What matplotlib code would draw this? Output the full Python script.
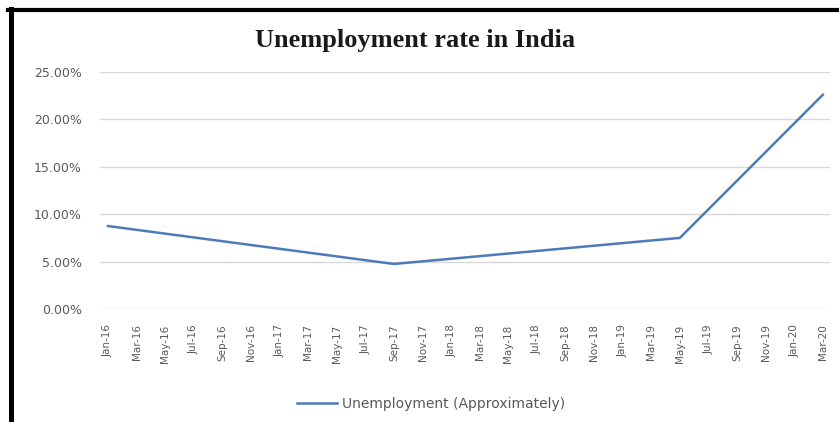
import matplotlib
matplotlib.use("Agg")
import matplotlib.pyplot as plt
from matplotlib.lines import Line2D
from matplotlib.ticker import FuncFormatter

# monthly index from Jan-16 (0) to Mar-20 (50)
months = [0, 20, 40, 50]
rates = [8.75, 4.75, 7.5, 22.6]

tick_months = list(range(0, 51, 2))
tick_labels = ["Jan-16", "Mar-16", "May-16", "Jul-16", "Sep-16", "Nov-16",
               "Jan-17", "Mar-17", "May-17", "Jul-17", "Sep-17", "Nov-17",
               "Jan-18", "Mar-18", "May-18", "Jul-18", "Sep-18", "Nov-18",
               "Jan-19", "Mar-19", "May-19", "Jul-19", "Sep-19", "Nov-19",
               "Jan-20", "Mar-20"]
y_ticks = [0, 5, 10, 15, 20, 25]

W, H = 839, 422
fig = plt.figure(figsize=(W / 100, H / 100), dpi=100)
ax = fig.add_axes([100 / W, 1 - 309 / H, 730 / W, 237 / H])

ax.plot(months, rates, color="#4E7AB8", lw=1.8, label="Unemployment (Approximately)")

ax.set_xlim(-0.56, 50.5)
ax.set_ylim(0, 25)
ax.set_yticks(y_ticks)
ax.yaxis.set_major_formatter(FuncFormatter(lambda v, p: f"{v:.2f}%"))
ax.set_xticks(tick_months)
ax.set_xticklabels(tick_labels, rotation=90)
ax.tick_params(axis="both", length=0, colors="#595959")
ax.tick_params(axis="y", pad=13, labelsize=9)
ax.tick_params(axis="x", pad=11, labelsize=7.5)
ax.grid(axis="y", color="#D9D9D9", lw=1)
ax.set_axisbelow(True)
for s in ax.spines.values():
    s.set_visible(False)

fig.text(415 / W, 1 - 40 / H, "Unemployment rate in India", ha="center", va="center",
         fontsize=19, fontweight="bold", family="Liberation Serif", color="#1a1a1a")

ax.legend(loc="center", bbox_to_anchor=(431 / W, 1 - 404 / H),
          bbox_transform=fig.transFigure, frameon=False, fontsize=10,
          handlelength=2.9, handletextpad=0.3, labelcolor="#595959")

# black frame on top and left edges
fig.add_artist(Line2D([8 / W, 1], [1 - 10 / H, 1 - 10 / H], color="black", lw=3,
                      transform=fig.transFigure))
fig.add_artist(Line2D([10.5 / W, 10.5 / W], [0, 1 - 8.5 / H], color="black", lw=3.6,
                      transform=fig.transFigure))

fig.savefig("out.png", dpi=100)
